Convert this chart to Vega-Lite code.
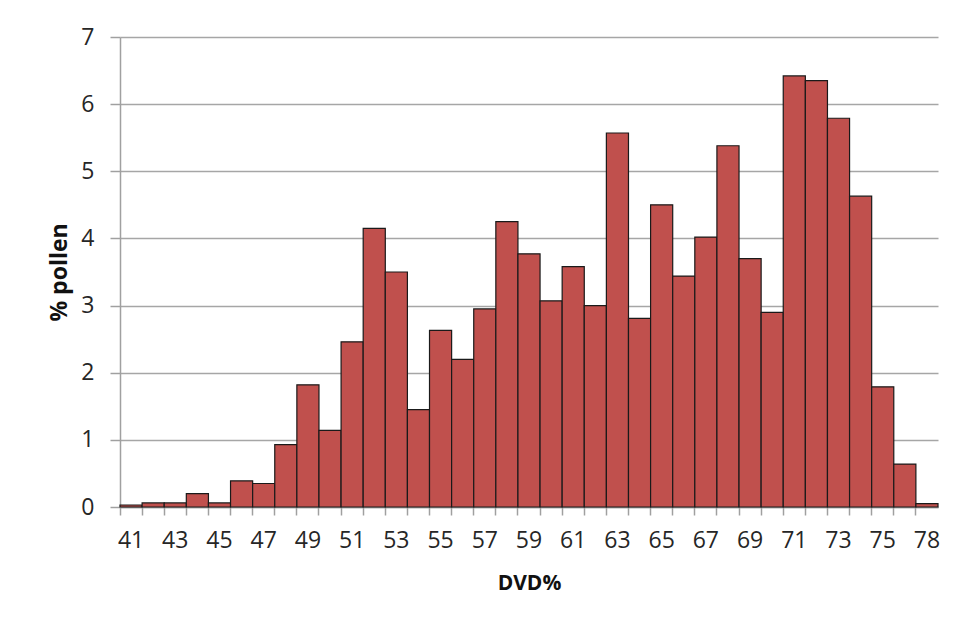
{
  "$schema": "https://vega.github.io/schema/vega-lite/v6.json",
  "width": 818,
  "height": 470,
  "autosize": {"type": "none"},
  "padding": {"left": 120, "top": 37, "right": 22, "bottom": 123},
  "background": "white",
  "config": {
    "view": {"stroke": null},
    "font": "Open Sans"
  },
  "data": {
    "values": [
      {"dvd": 41, "pollen": 0.03},
      {"dvd": 42, "pollen": 0.06},
      {"dvd": 43, "pollen": 0.06},
      {"dvd": 44, "pollen": 0.2},
      {"dvd": 45, "pollen": 0.06},
      {"dvd": 46, "pollen": 0.39},
      {"dvd": 47, "pollen": 0.35},
      {"dvd": 48, "pollen": 0.93},
      {"dvd": 49, "pollen": 1.82},
      {"dvd": 50, "pollen": 1.14},
      {"dvd": 51, "pollen": 2.46},
      {"dvd": 52, "pollen": 4.15},
      {"dvd": 53, "pollen": 3.5},
      {"dvd": 54, "pollen": 1.45},
      {"dvd": 55, "pollen": 2.63},
      {"dvd": 56, "pollen": 2.2},
      {"dvd": 57, "pollen": 2.95},
      {"dvd": 58, "pollen": 4.25},
      {"dvd": 59, "pollen": 3.77},
      {"dvd": 60, "pollen": 3.07},
      {"dvd": 61, "pollen": 3.58},
      {"dvd": 62, "pollen": 3.0},
      {"dvd": 63, "pollen": 5.57},
      {"dvd": 64, "pollen": 2.81},
      {"dvd": 65, "pollen": 4.5},
      {"dvd": 66, "pollen": 3.44},
      {"dvd": 67, "pollen": 4.02},
      {"dvd": 68, "pollen": 5.38},
      {"dvd": 69, "pollen": 3.7},
      {"dvd": 70, "pollen": 2.9},
      {"dvd": 71, "pollen": 6.42},
      {"dvd": 72, "pollen": 6.35},
      {"dvd": 73, "pollen": 5.79},
      {"dvd": 74, "pollen": 4.63},
      {"dvd": 75, "pollen": 1.79},
      {"dvd": 76, "pollen": 0.64},
      {"dvd": 78, "pollen": 0.05}
    ]
  },
  "mark": {"type": "bar", "fill": "#C0504D", "stroke": "#1a1a1a", "strokeWidth": 1.2},
  "encoding": {
    "x": {
      "field": "dvd",
      "type": "ordinal",
      "sort": "ascending",
      "title": "DVD%",
      "scale": {"paddingInner": 0, "paddingOuter": 0},
      "axis": {
        "bandPosition": 0,
        "labelAngle": 0,
        "labelExpr": "(datum.value % 2 == 1 || datum.value == 78) ? datum.label : ''",
        "labelFont": "Open Sans",
        "labelFontSize": 23,
        "labelColor": "#262626",
        "labelPadding": 14,
        "tickSize": 8,
        "tickColor": "#a0a0a0",
        "tickWidth": 1.5,
        "domainColor": "#a0a0a0",
        "domainWidth": 1.5,
        "grid": false,
        "titleFont": "Open Sans",
        "titleFontSize": 21,
        "titleFontWeight": "bold",
        "titleColor": "#111111",
        "titlePadding": 20
      }
    },
    "y": {
      "field": "pollen",
      "type": "quantitative",
      "title": "% pollen",
      "scale": {"domain": [0, 7], "nice": false},
      "axis": {
        "values": [0, 1, 2, 3, 4, 5, 6, 7],
        "format": "d",
        "labelFont": "Open Sans",
        "labelFontSize": 23,
        "labelColor": "#262626",
        "labelPadding": 16,
        "tickSize": 10,
        "tickColor": "#a0a0a0",
        "tickWidth": 1.5,
        "domainColor": "#a0a0a0",
        "domainWidth": 1.5,
        "grid": true,
        "gridColor": "#a6a6a6",
        "gridWidth": 1.5,
        "titleFont": "Open Sans",
        "titleFontSize": 23,
        "titleFontWeight": "bold",
        "titleColor": "#111111",
        "titlePadding": 9
      }
    }
  }
}
